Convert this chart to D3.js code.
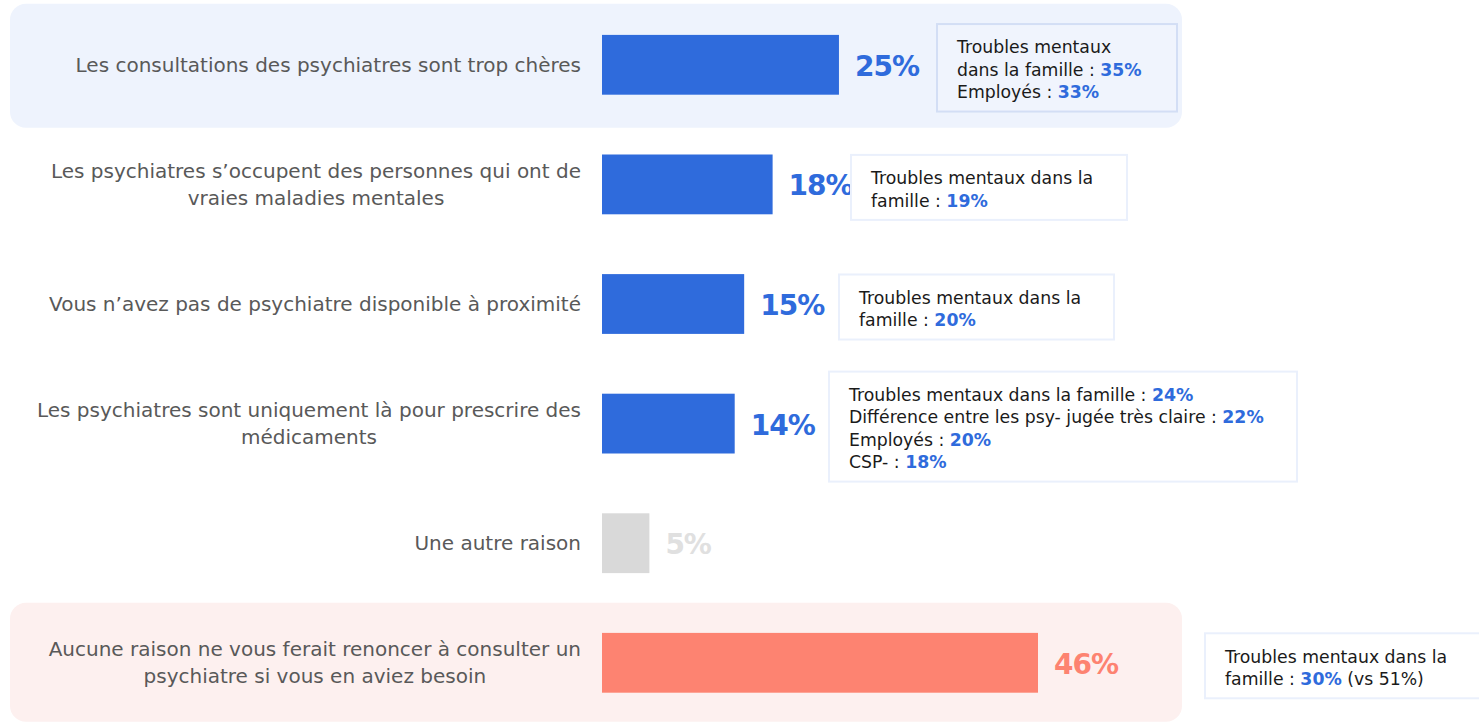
<!DOCTYPE html>
<html>
<head>
    <meta charset="utf-8">
    <style>
        body { margin: 0; background: #fff; }
        svg text { font-family: "Century Gothic", "DejaVu Sans", sans-serif; }
    </style>
</head>
<body>
    <script src="https://cdn.jsdelivr.net/npm/d3@7"></script>
    <script>
        // données
        var categories = [
            ["Les consultations des psychiatres sont trop chères"],
            ["Les psychiatres s\u2019occupent des personnes qui ont de", "vraies maladies mentales"],
            ["Vous n\u2019avez pas de psychiatre disponible à proximité"],
            ["Les psychiatres sont uniquement là pour prescrire des", "médicaments"],
            ["Une autre raison"],
            ["Aucune raison ne vous ferait renoncer à consulter un", "psychiatre si vous en aviez besoin"]
        ];
        var values = [25, 18, 15, 14, 5, 46];
        var kinds = ["main", "main", "main", "main", "other", "none"];
        var highlighted = [0, 5];

        // encadrés : chaque ligne = [texte, valeur en gras, suite]
        var notes = [
            [["Troubles mentaux", "", ""], ["dans la famille : ", "35%", ""], ["Employés : ", "33%", ""]],
            [["Troubles mentaux dans la", "", ""], ["famille : ", "19%", ""]],
            [["Troubles mentaux dans la", "", ""], ["famille : ", "20%", ""]],
            [["Troubles mentaux dans la famille : ", "24%", ""], ["Différence entre les psy- jugée très claire : ", "22%", ""], ["Employés : ", "20%", ""], ["CSP- : ", "18%", ""]],
            null,
            [["Troubles mentaux dans la", "", ""], ["famille : ", "30%", " (vs 51%)"]]
        ];
        var noteLeft = [937, 851, 839, 829, 0, 1205];
        var noteWidths = [240, 276, 275, 468, 0, 290];

        var width = 1479, height = 722;
        var barLeft = 602, labelRight = 581;
        var blue = "#2f6bdc";
        var barColor = { main: "#2f6bdc", other: "#d9d9d9", none: "#fd8371" };
        var valueColor = { main: "#2f6bdc", other: "#e0e0e0", none: "#fd8371" };
        var bandFill = { 0: "#eef3fd", 5: "#fdf0ef" };

        var x = d3.scaleLinear().domain([0, 46]).range([barLeft, 1038]);
        var y = d3.scaleBand().domain(d3.range(values.length))
            .range([5, 5 + 6 * 119.6]).paddingInner(0.5).paddingOuter(0.25);

        var svg = d3.select("body").append("svg")
            .attr("width", width).attr("height", height);

        // bandeaux de mise en avant
        svg.selectAll("rect.band").data(highlighted).enter().append("rect")
            .attr("class", "band")
            .attr("x", 10).attr("width", 1172)
            .attr("y", function (i) { return y(i) + y.bandwidth() / 2 - (i === 0 ? 61 : 60); })
            .attr("height", function (i) { return i === 0 ? 124 : 119; })
            .attr("rx", 16)
            .attr("fill", function (i) { return bandFill[i]; });

        var rows = svg.selectAll("g.row").data(values).enter().append("g")
            .attr("class", "row");

        rows.append("rect")
            .attr("x", x(0))
            .attr("y", function (d, i) { return y(i); })
            .attr("width", function (d) { return x(d) - x(0); })
            .attr("height", y.bandwidth())
            .attr("fill", function (d, i) { return barColor[kinds[i]]; });

        rows.append("text")
            .attr("x", function (d) { return x(d) + 16; })
            .attr("y", function (d, i) { return y(i) + y.bandwidth() / 2 + 1; })
            .attr("dy", "0.36em")
            .attr("font-size", 28)
            .attr("font-weight", "bold")
            .attr("letter-spacing", -1)
            .attr("fill", function (d, i) { return valueColor[kinds[i]]; })
            .text(function (d) { return d + "%"; });

        // libellés de catégorie
        rows.each(function (d, i) {
            var lines = categories[i];
            var g = d3.select(this);
            var lh = 27;
            var cy = y(i) + y.bandwidth() / 2;
            var t = g.append("text")
                .attr("font-size", 20)
                .attr("fill", "#595959");
            lines.forEach(function (line, k) {
                t.append("tspan")
                    .attr("y", cy + (k - (lines.length - 1) / 2) * lh)
                    .attr("dy", "0.35em")
                    .text(line);
            });
            if (lines.length === 1) {
                t.attr("text-anchor", "end").selectAll("tspan").attr("x", labelRight);
            } else {
                var maxW = 0;
                t.selectAll("tspan").each(function () {
                    maxW = Math.max(maxW, this.getComputedTextLength());
                });
                t.attr("text-anchor", "middle").selectAll("tspan").attr("x", labelRight - maxW / 2);
            }
        });

        // encadrés
        rows.each(function (d, i) {
            var n = notes[i];
            if (!n) return;
            var g = d3.select(this);
            var lh = 22.5;
            var cy = y(i) + y.bandwidth() / 2 + 3;
            var h = n.length * lh + 20;
            g.append("rect")
                .attr("x", noteLeft[i])
                .attr("y", cy - h / 2)
                .attr("width", noteWidths[i])
                .attr("height", h)
                .attr("fill", i === 0 ? "#f0f4fd" : "#ffffff")
                .attr("stroke", i === 0 ? "#d3def5" : "#eaf0fc")
                .attr("stroke-width", 2);
            var t = g.append("text")
                .attr("font-size", 17.3)
                .attr("fill", "#1a1a1a");
            n.forEach(function (line, k) {
                var ty = cy + 2 + (k - (n.length - 1) / 2) * lh;
                t.append("tspan").attr("x", noteLeft[i] + 20).attr("y", ty).attr("dy", "0.35em").text(line[0]);
                if (line[1]) t.append("tspan").attr("font-weight", "bold").attr("fill", blue).text(line[1]);
                if (line[2]) t.append("tspan").text(line[2]);
            });
        });
    </script>
</body>
</html>
